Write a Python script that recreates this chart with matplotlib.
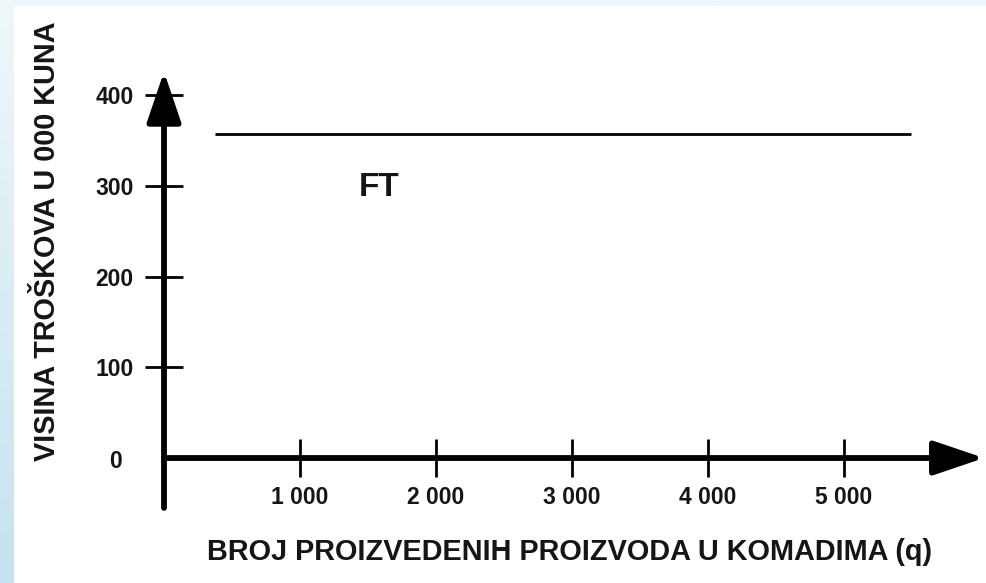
import numpy as np
import matplotlib
matplotlib.use("Agg")
import matplotlib.pyplot as plt
from matplotlib.patches import Rectangle
from matplotlib.colors import LinearSegmentedColormap

# data
x_ticks = [1000, 2000, 3000, 4000, 5000]
x_tick_labels = ["1 000", "2 000", "3 000", "4 000", "5 000"]
y_ticks = [100, 200, 300, 400]
y_tick_labels = ["100", "200", "300", "400"]
ft_q = [375, 5490]
ft_value = [357, 357]
ft_label = "FT"
x_title = "BROJ PROIZVEDENIH PROIZVODA U KOMADIMA (q)"
y_title = "VISINA TROŠKOVA U 000 KUNA"

plt.rcParams['font.family'] = ['Liberation Sans', 'DejaVu Sans']
plt.rcParams['font.weight'] = 'bold'

W, H = 986, 583
fig = plt.figure(figsize=(W / 100, H / 100), dpi=100)

# background gradient
bg = fig.add_axes([0, 0, 1, 1], zorder=-10)
grad = np.linspace(0, 1, 256).reshape(-1, 1)
cmap = LinearSegmentedColormap.from_list("bg", ["#f0f7fa", "#c6e2ee"])
bg.imshow(grad, aspect='auto', cmap=cmap, extent=[0, 1, 0, 1], origin='upper')
bg.set_xlim(0, 1); bg.set_ylim(0, 1)
bg.axis('off')
bg.add_patch(Rectangle((14 / W, 0), 1, 1 - 6 / H, transform=bg.transAxes,
                       facecolor='white', edgecolor='none'))

ax = fig.add_axes([0, 0, 1, 1])
ax.patch.set_visible(False)
ax.set_xlim(-1206, 6044)
ax.set_ylim(-137.8, 505.0)

for s in ['top', 'right']:
    ax.spines[s].set_visible(False)
ax.spines['left'].set_position(('data', 0))
ax.spines['bottom'].set_position(('data', 0))
ax.spines['left'].set_visible(False)
ax.spines['bottom'].set_visible(False)

# axes with arrows
arrow_kw = dict(arrowstyle='-|>,head_length=3.1,head_width=1.05',
                lw=4.2, color='black', mutation_scale=10,
                shrinkA=0, shrinkB=0)
ax.annotate('', xy=(0, 426), xytext=(0, -55), arrowprops=arrow_kw)
ax.annotate('', xy=(6030, 0), xytext=(0, 0), arrowprops=arrow_kw)

ax.set_xticks(x_ticks)
ax.set_xticklabels(x_tick_labels)
ax.set_yticks(y_ticks)
ax.set_yticklabels(y_tick_labels)
ax.tick_params(axis='both', direction='inout', length=28, width=2.0,
               color='black', labelsize=16.5, labelcolor='#151515')
ax.tick_params(axis='x', pad=6)
ax.tick_params(axis='y', pad=8)

ax.text(-360, -4, "0", ha='center', va='center', fontsize=16.5,
        fontweight='bold', color='#151515')

ax.plot(ft_q, ft_value, color='black', lw=2.0, solid_capstyle='butt')
ax.text(1580, 298, ft_label, ha='center', va='center', fontsize=24,
        fontweight='bold', color='#151515')

fig.text(47 / W, 1 - 241 / H, y_title, rotation=90, ha='center', va='center',
         fontsize=20.8, fontweight='bold', color='#151515')
fig.text(570 / W, 1 - 552 / H, x_title, ha='center', va='center',
         fontsize=20.8, fontweight='bold', color='#151515')

fig.savefig("out.png", dpi=100)
